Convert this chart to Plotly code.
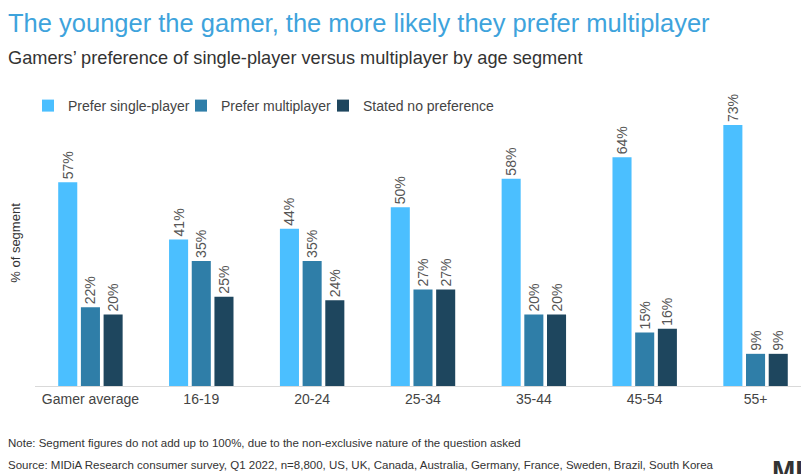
import plotly.graph_objects as go

categories = ["Gamer average", "16-19", "20-24", "25-34", "35-44", "45-54", "55+"]
single_player = [57, 41, 44, 50, 58, 64, 73]
multiplayer = [22, 35, 35, 27, 20, 15, 9]
no_preference = [20, 25, 24, 27, 20, 16, 9]

series = [
    ("Prefer single-player", single_player, "#4bbfff", "legend", 28),
    ("Prefer multiplayer", multiplayer, "#2f7ea8", "legend2", 181),
    ("Stated no preference", no_preference, "#1e465e", "legend3", 323),
]

FONT = "Liberation Sans, Arial, sans-serif"
L, T, B, W, H = 35, 100, 88, 766, 286

def px_y(y):
    return 1 - (y - T) / H

def px_x(x):
    return (x - L) / W

fig = go.Figure()
legends = {}
for name, vals, col, leg, lx in series:
    fig.add_trace(go.Bar(
        x=categories, y=vals, name=name, legend=leg,
        marker=dict(color=col, line=dict(width=0)),
        text=[f"{v}%" for v in vals],
        textposition="outside", textangle=-90, constraintext="none",
        textfont=dict(size=14, color="#555555", family=FONT),
        cliponaxis=False,
    ))
    legends[leg] = dict(orientation="h", x=px_x(lx), xanchor="left", y=px_y(106), yanchor="middle",
                        font=dict(size=14, color="#444444"), itemwidth=30,
                        bgcolor="rgba(0,0,0,0)")

fig.update_layout(
    width=801, height=474,
    margin=dict(l=L, r=0, t=T, b=B),
    paper_bgcolor="white", plot_bgcolor="white",
    barmode="group", bargap=0.386, bargroupgap=0.16,
    font=dict(family=FONT, color="#444444"),
    showlegend=True,
    xaxis=dict(range=[-0.5, 6.41], showgrid=False, showline=True, linecolor="#d9d9d9",
               linewidth=1, ticks="", tickfont=dict(size=14, color="#444444"), zeroline=False),
    yaxis=dict(range=[0, 80], showgrid=False, showticklabels=False, zeroline=False,
               showline=False, ticks="",
               title=dict(text="% of segment", font=dict(size=13, color="#333333"), standoff=10)),
    **legends,
)

fig.add_annotation(text="The younger the gamer, the more likely they prefer multiplayer",
                   xref="paper", yref="paper", x=px_x(6), y=px_y(23),
                   xanchor="left", yanchor="middle", showarrow=False,
                   font=dict(size=25.5, color="#3ea3dc", family=FONT))
fig.add_annotation(text="Gamers’ preference of single-player versus multiplayer by age segment",
                   xref="paper", yref="paper", x=px_x(6), y=px_y(58),
                   xanchor="left", yanchor="middle", showarrow=False,
                   font=dict(size=18.2, color="#333333", family=FONT))
fig.add_annotation(text="Note: Segment figures do not add up to 100%, due to the non-exclusive nature of the question asked",
                   xref="paper", yref="paper", x=px_x(6), y=px_y(443),
                   xanchor="left", yanchor="middle", showarrow=False,
                   font=dict(size=11.5, color="#333333", family=FONT))
fig.add_annotation(text="Source: MIDiA Research consumer survey, Q1 2022, n=8,800, US, UK, Canada, Australia, Germany, France, Sweden, Brazil, South Korea",
                   xref="paper", yref="paper", x=px_x(6), y=px_y(465),
                   xanchor="left", yanchor="middle", showarrow=False,
                   font=dict(size=11.5, color="#333333", family=FONT))
fig.add_annotation(text="<b>MI</b>", xref="paper", yref="paper",
                   x=px_x(770), y=px_y(470),
                   xanchor="left", yanchor="middle", showarrow=False,
                   font=dict(size=28, color="#333333", family=FONT))

fig.write_html("out.html", config={"displayModeBar": False},
               post_script="document.body.style.margin='0';document.body.style.overflow='hidden';")
